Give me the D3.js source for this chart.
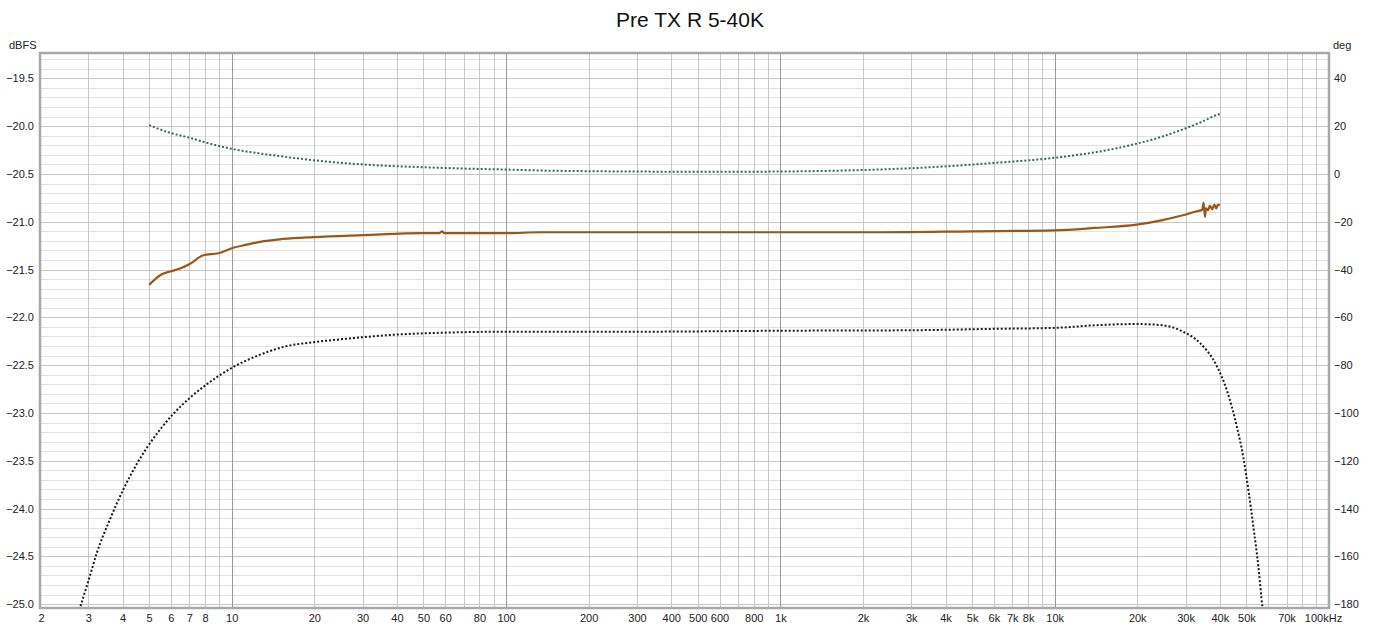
<!DOCTYPE html>
<html>
<head>
<meta charset="utf-8">
<script src="https://cdn.jsdelivr.net/npm/d3@7/dist/d3.min.js"></script>
<style>
  html, body { margin: 0; padding: 0; background: #fff; }
  svg { display: block; font-family: "Liberation Sans", Arial, sans-serif; }
</style>
</head>
<body>
<svg id="chart" width="1379" height="630"></svg>
<script>
// ---------- DATA ----------
const title = "Pre TX R 5-40K";
const leftUnit = "dBFS";
const rightUnit = "deg";
const dbTicks = [-19.5, -20.0, -20.5, -21.0, -21.5, -22.0, -22.5, -23.0, -23.5, -24.0, -24.5, -25.0];
const degTicks = [40, 20, 0, -20, -40, -60, -80, -100, -120, -140, -160, -180];
const freqTickValues = [2, 3, 4, 5, 6, 7, 8, 10, 20, 30, 40, 50, 60, 80, 100, 200, 300, 400, 500, 600, 800,
  1000, 2000, 3000, 4000, 5000, 6000, 7000, 8000, 10000, 20000, 30000, 40000, 50000, 70000, 100000];
const freqTickLabels = ["2", "3", "4", "5", "6", "7", "8", "10", "20", "30", "40", "50", "60", "80", "100", "200", "300", "400", "500", "600", "800",
  "1k", "2k", "3k", "4k", "5k", "6k", "7k", "8k", "10k", "20k", "30k", "40k", "50k", "70k", "100kHz"];

// Brown solid: level (dBFS)
const brownFreq = [5.0, 5.56, 5.96, 6.48, 7.05, 7.88, 8.93, 10.2, 11.34, 12.68, 15.4, 19.8, 30.2, 50, 57, 58.5, 59.3, 60.5, 100, 133, 1000, 2300, 5000, 10000, 14000, 19900, 24500, 28600,
  33000, 34500, 34900, 35300, 35600, 36200, 36800, 37500, 38200, 38800, 39400, 40000];
const brownDb = [-21.66, -21.55, -21.52, -21.49, -21.44, -21.35, -21.33, -21.27, -21.24, -21.21, -21.18, -21.16, -21.14, -21.12, -21.12, -21.10, -21.118, -21.12, -21.12, -21.11, -21.11, -21.11, -21.10, -21.09, -21.065, -21.03, -20.985, -20.94,
  -20.89, -20.875, -20.80, -20.95, -20.86, -20.88, -20.83, -20.87, -20.82, -20.86, -20.82, -20.83];

// Green dotted: phase (deg)
const greenFreq = [5.0, 5.96, 7.05, 8.11, 10, 14.2, 19.8, 30.2, 50, 76, 100, 133, 200, 300, 500, 800, 1000, 1500, 2300, 4040, 6150, 10000, 16400, 24900, 33700, 39500, 40000];
const greenDeg = [20.4, 17.2, 15.1, 13.0, 10.5, 7.8, 5.75, 3.95, 2.8, 2.15, 1.85, 1.44, 1.15, 1.0, 0.9, 0.95, 1.0, 1.3, 1.85, 3.2, 4.7, 6.75, 10.5, 15.8, 21.4, 24.9, 25.1];

// Black dotted: level (dBFS)
const blackFreq = [2.78, 3.0, 3.22, 3.6, 4.02, 4.5, 4.96, 5.48, 6.12, 7.05, 8.11, 10, 12.7, 15.9, 19.8, 24.8, 40, 60, 100, 300, 1000, 3000, 6000, 10000, 14600, 19900, 24200, 29400, 33900, 39000, 42400, 46100, 48700, 50800, 53000, 55300, 57200, 58000];
const blackDb = [-25.06, -24.76, -24.467, -24.111, -23.804, -23.537, -23.343, -23.174, -23.010, -22.840, -22.700, -22.529, -22.39, -22.30, -22.26, -22.23, -22.18, -22.16, -22.15, -22.15, -22.14, -22.135, -22.12, -22.11, -22.08, -22.07, -22.08, -22.15, -22.27, -22.51, -22.76, -23.14, -23.46, -23.80, -24.19, -24.61, -25.03, -25.15];

// ---------- LAYOUT ----------
const W = 1379, H = 630;
const L = 40, R = 1329, T = 53, B = 608;
const dbMin = -25.04, dbMax = -19.235;

const svg = d3.select("#chart");
svg.append("rect").attr("width", W).attr("height", H).attr("fill", "#fff");

const x = d3.scaleLog().domain([2, 100000]).range([L, R]);
const y = d3.scaleLinear().domain([dbMin, dbMax]).range([B, T]);
const yDeg = d3.scaleLinear().domain([(dbMin + 20.5) * 40, (dbMax + 20.5) * 40]).range([B, T]);

// grid
const grid = svg.append("g");
const hMinor = d3.range(-250, -192).map(v => v / 10);
grid.selectAll("line.hmin").data(hMinor).join("line")
  .attr("x1", L).attr("x2", R)
  .attr("y1", d => Math.round(y(d)) + 0.5).attr("y2", d => Math.round(y(d)) + 0.5)
  .attr("stroke", d => (Math.abs(Math.round(d * 10)) % 5 === 0) ? "#c6c6c6" : "#e3e3e3")
  .attr("stroke-width", 1);

const vLines = [];
for (let e = 0; e <= 5; e++) {
  for (let m = 1; m <= 9; m++) {
    const f = m * Math.pow(10, e);
    if (f > 2 && f < 100000) vLines.push({ f, major: m === 1 });
  }
}
grid.selectAll("line.v").data(vLines).join("line")
  .attr("x1", d => Math.round(x(d.f)) + 0.5).attr("x2", d => Math.round(x(d.f)) + 0.5)
  .attr("y1", T).attr("y2", B)
  .attr("stroke", d => d.major ? "#9a9a9a" : "#c8c8c8")
  .attr("stroke-width", 1);

svg.append("rect").attr("x", L).attr("y", T).attr("width", R - L).attr("height", B - T)
  .attr("fill", "none").attr("stroke", "#a8a8a8").attr("stroke-width", 2.5);

// axes
const leftAxis = d3.axisLeft(y).tickValues(dbTicks).tickSize(0).tickPadding(5).tickFormat(d3.format(".1f"));
const gL = svg.append("g").attr("transform", `translate(${L - 1},0)`).call(leftAxis);
const rightAxis = d3.axisRight(yDeg).tickValues(degTicks).tickSize(0).tickPadding(4).tickFormat(d3.format("d"));
const gR = svg.append("g").attr("transform", `translate(${R + 1},0)`).call(rightAxis);
const bottomAxis = d3.axisBottom(x).tickValues(freqTickValues).tickSize(0).tickPadding(6)
  .tickFormat((d, i) => freqTickLabels[i]);
const gB = svg.append("g").attr("transform", `translate(0,${B})`).call(bottomAxis);
[gL, gR, gB].forEach(g => {
  g.select(".domain").remove();
  g.selectAll("text").attr("fill", "#222").style("font-size", "11px")
    .style("font-family", '"Liberation Sans", Arial, sans-serif');
});
gB.selectAll("text").filter((d, i) => freqTickLabels[i] === "100kHz").attr("dx", -6);
gB.selectAll("text").filter((d, i) => freqTickLabels[i] === "2").attr("dx", 1);

svg.append("text").attr("x", 9).attr("y", 49).text(leftUnit)
  .attr("fill", "#222").style("font-size", "11px");
svg.append("text").attr("x", 1333).attr("y", 49).text(rightUnit)
  .attr("fill", "#222").style("font-size", "11px");
svg.append("text").attr("x", 690).attr("y", 27).attr("text-anchor", "middle").text(title)
  .attr("fill", "#111").style("font-size", "21px");

// clip
svg.append("clipPath").attr("id", "plotclip").append("rect")
  .attr("x", L).attr("y", T).attr("width", R - L).attr("height", B - T);
const plot = svg.append("g").attr("clip-path", "url(#plotclip)");

const lineDb = d3.line().x(d => x(d[0])).y(d => y(d[1])).curve(d3.curveMonotoneX);
const lineDeg = d3.line().x(d => x(d[0])).y(d => yDeg(d[1])).curve(d3.curveMonotoneX);

plot.append("path").datum(blackFreq.map((f, i) => [f, blackDb[i]]))
  .attr("d", lineDb).attr("fill", "none").attr("stroke", "#1a1a1a")
  .attr("stroke-width", 2).attr("stroke-dasharray", "2,2");

plot.append("path").datum(greenFreq.map((f, i) => [f, greenDeg[i]]))
  .attr("d", lineDeg).attr("fill", "none").attr("stroke", "#2d6b5c")
  .attr("stroke-width", 2).attr("stroke-dasharray", "2,2");

plot.append("path").datum(brownFreq.map((f, i) => [f, brownDb[i]]))
  .attr("d", d3.line().x(d => x(d[0])).y(d => y(d[1])).curve(d3.curveMonotoneX))
  .attr("fill", "none").attr("stroke", "#9c5718")
  .attr("stroke-width", 2.2).attr("stroke-linejoin", "round");
</script>
</body>
</html>
